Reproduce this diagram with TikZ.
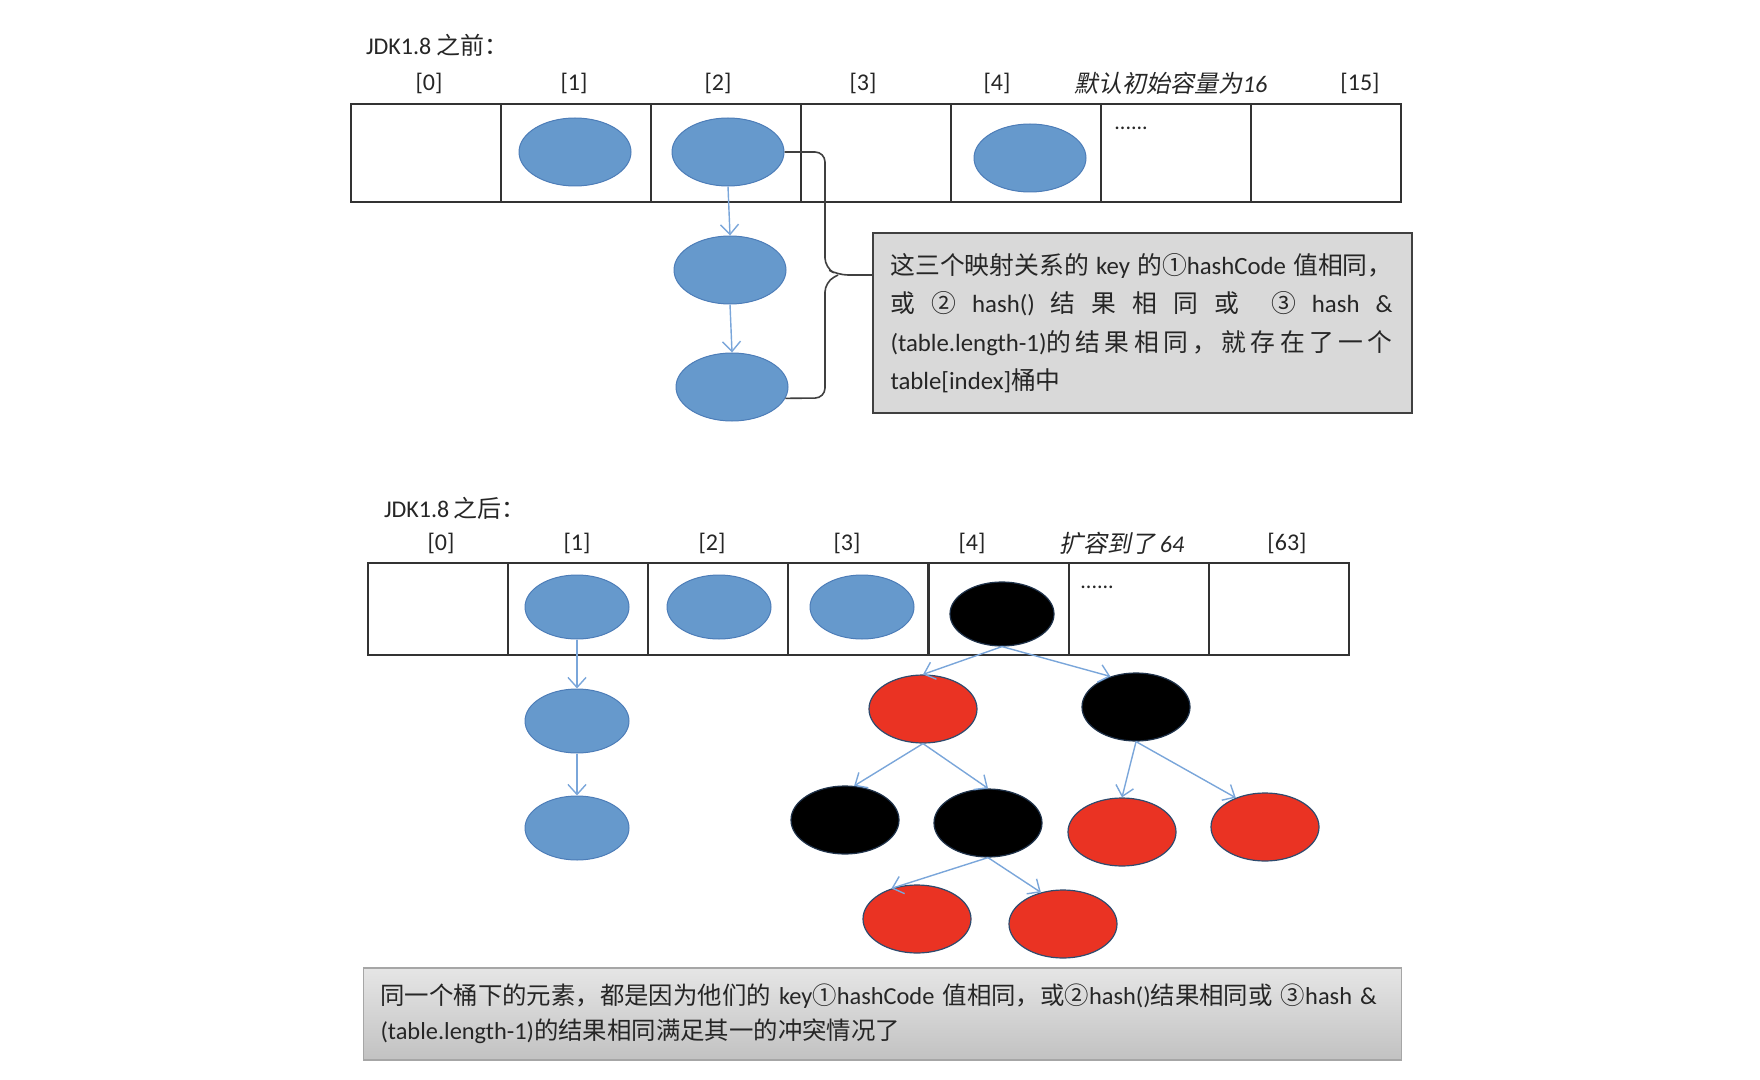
\documentclass[tikz,border=0pt]{standalone}
\usepackage{fontspec}
\setmainfont{Carlito}
\newfontfamily\cjk{Noto Sans CJK SC}
\newfontfamily\cjkit{Noto Sans CJK SC}[FakeSlant=0.2]
\usetikzlibrary{arrows.meta,shapes.geometric,calc}
\definecolor{nodeblue}{HTML}{6699CC}
\definecolor{blueedge}{HTML}{4D7DB8}
\definecolor{arrowblue}{HTML}{7AA6DA}
\definecolor{rbred}{HTML}{EA3323}
\definecolor{txt}{HTML}{262626}
\definecolor{boxgray}{HTML}{D9D9D9}
\newcommand{\zh}[1]{{\cjk #1}}
\newcommand{\zhi}[1]{{\cjkit #1}}
\newcommand{\gl}{\hskip 0pt plus 1fil}
\begin{document}
\begin{tikzpicture}[x=0.5pt,y=-0.5pt,
  font=\fontsize{12}{14}\selectfont, text=txt,
  topcell/.style={draw=black!80, line width=0.8pt, minimum width=75pt, minimum height=49pt, inner sep=0pt},
  botcell/.style={draw=black!80, line width=0.8pt, minimum width=70pt, minimum height=46pt, inner sep=0pt},
  lbl/.style={font=\fontsize{12}{14}\selectfont},
  topblue/.style={ellipse, fill=nodeblue, draw=blueedge, line width=0.5pt, minimum width=56pt, minimum height=34pt, inner sep=0pt},
  botblue/.style={ellipse, fill=nodeblue, draw=blueedge, line width=0.5pt, minimum width=52pt, minimum height=32pt, inner sep=0pt},
  rbnode/.style={ellipse, line width=0.6pt, minimum width=54pt, minimum height=34pt, inner sep=0pt},
  rednode/.style={rbnode, fill=rbred, draw=blueedge!60!black},
  blacknode/.style={rbnode, fill=black, draw=blueedge!40!black},
  arr/.style={draw=arrowblue, line width=0.7pt, -{Straight Barb[length=5pt,width=9pt]}},
  brace/.style={draw=black!75, line width=0.8pt, rounded corners=5pt},
  dots/.style={font=\fontsize{11}{11}\selectfont, anchor=base west, inner sep=0pt},
]
\useasboundingbox (0,0) rectangle (1760,1080);

% ---------- top part ----------
\node[anchor=west, lbl] (title1) at (359,45) {JDK1.8 \zh{之前：}};
\foreach \i/\x in {0/426,1/576,2/726,3/876,4/1026,5/1176,6/1326}
  \node[topcell] (p\i) at (\x,153) {};
\node[lbl] (lp0) at (429,83) {[0]};
\node[lbl] (lp1) at (574,83) {[1]};
\node[lbl] (lp2) at (718,83) {[2]};
\node[lbl] (lp3) at (863,83) {[3]};
\node[lbl] (lp4) at (997,83) {[4]};
\node[lbl] (lp5) at (1171,83) {\zhi{默认初始容量为}{\itshape 16}};
\node[lbl] (lp6) at (1360,83) {[15]};
\node[dots] (dt1) at (1114,130) {......};

\node[topblue] (a1) at (575,152) {};
\node[topblue] (a2) at (728,152) {};
\node[topblue] (a4) at (1030,158) {};
\node[topblue] (c1) at (730,270) {};
\node[topblue] (c2) at (732,387) {};
\draw[arr] (a2.south) -- (c1.north);
\draw[arr] (c1.south) -- (c2.north);

\node[draw=black!75, line width=0.9pt, fill=boxgray, minimum width=269.5pt, minimum height=90pt,
      inner xsep=8.5pt, text width=252pt, align=left,
      font=\fontsize{12.4}{19.2}\selectfont] (cb) at (1142.5,323)
  {\leavevmode\hbox to 251pt{\zh{这三个映射关系的}\gl key\gl\zh{的①}hashCode\gl\zh{值相同，}}\\
   \leavevmode\hbox to 251pt{\zh{或}\hfill\zh{②}\hfill hash()\hfill\zh{结}\hfill\zh{果}\hfill\zh{相}\hfill\zh{同}\hfill\zh{或}\hfill\hfill\zh{③}\hfill hash\hfill\&}\\
   \leavevmode\hbox to 251pt{(table.length-1)\zh{的\gl 结\gl 果\gl 相\gl 同\gl ，\gl 就\gl 存\gl 在\gl 了\gl 一\gl 个}}\\
   table[index]\zh{桶中}};

\coordinate (tip) at (838,275);
\draw[brace] (a2.east) -- (825,152) -- (825,268) -- (tip) -- (cb.west |- tip);
\draw[brace] (c2.-12) -- (825,398) -- (825,282) -- (tip);

% ---------- bottom part ----------
\node[anchor=west, lbl] (title2) at (377,508) {JDK1.8\,\zh{之后：}};
\foreach \i/\x in {0/438,1/578,2/718,3/858,4/999,5/1139,6/1279}
  \node[botcell] (q\i) at (\x,609) {};
\node[lbl] (lq0) at (441,543) {[0]};
\node[lbl] (lq1) at (577,543) {[1]};
\node[lbl] (lq2) at (712,543) {[2]};
\node[lbl] (lq3) at (847,543) {[3]};
\node[lbl] (lq4) at (972,543) {[4]};
\node[lbl] (lq5) at (1122,543) {\zhi{扩容到了}\,{\itshape 64}};
\node[lbl] (lq6) at (1287,543) {[63]};
\node[dots] (dt2) at (1080,588) {......};

\node[botblue] (b1) at (577,607) {};
\node[botblue] (b2) at (719,607) {};
\node[botblue] (b3) at (862,607) {};
\node[blacknode, minimum width=52pt, minimum height=32pt] (b4) at (1002,614) {};
\node[botblue] (e1) at (577,721) {};
\node[botblue] (e2) at (577,828) {};
\draw[arr] (b1.south) -- (e1.north);
\draw[arr] (e1.south) -- (e2.north);

\node[rednode] (r1) at (923,709) {};
\node[blacknode] (k1) at (1136,707) {};
\node[blacknode] (k2) at (845,820) {};
\node[blacknode] (k3) at (988,823) {};
\node[rednode] (r2) at (1122,832) {};
\node[rednode] (r3) at (1265,827) {};
\node[rednode] (r4) at (917,919) {};
\node[rednode] (r5) at (1063,924) {};

\draw[arr] (b4.south) -- (r1.north);
\draw[arr] (b4.south) -- (k1.130);
\draw[arr] (r1.south) -- (k2.75);
\draw[arr] (r1.south) -- (k3.north);
\draw[arr] (k1.south) -- (r2.north);
\draw[arr] (k1.south) -- (r3.135);
\draw[arr] (k3.south) -- (r4.130);
\draw[arr] (k3.south) -- (r5.125);

\node[draw=black!35, line width=0.8pt, top color=black!10, bottom color=black!24,
      minimum width=517.5pt, minimum height=46pt,
      inner xsep=8.5pt, text width=502pt, align=left,
      font=\fontsize{12.2}{17.5}\selectfont] (bb) at (882.5,1014)
  {\zh{同一个桶下的元素，都是因为他们的} key\zh{①}hashCode \zh{值相同，或②}hash()\zh{结果相同或} \zh{③}hash \&\\
   (table.length-1)\zh{的结果相同满足其一的冲突情况了}};
\end{tikzpicture}
\end{document}
